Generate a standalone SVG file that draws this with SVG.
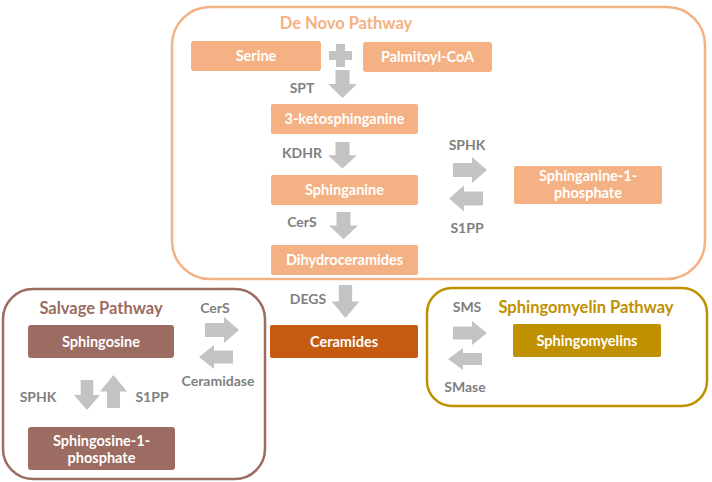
<svg xmlns="http://www.w3.org/2000/svg" width="712" height="482" viewBox="0 0 712 482">
<defs>
<style>
.bt{font-family:Lato,"Open Sans","Liberation Sans",sans-serif;font-weight:bold;font-size:14.5px;fill:#ffffff;text-anchor:middle}
.lb{font-family:Lato,"Open Sans","Liberation Sans",sans-serif;font-weight:bold;font-size:14px;fill:#7f7f7f;text-anchor:middle}
.tt{font-family:Lato,"Open Sans","Liberation Sans",sans-serif;font-weight:bold;font-size:16.5px;text-anchor:middle}
.ar{fill:#c3c3c3}
.dn{fill:#f4b183}
.sv{fill:#9c6b61}
</style>
<path id="down" d="M-7,0 H7 V14 H14.5 L0,28 L-14.5,14 H-7 Z"/>
<path id="right" d="M0,-7 H19 V-13 L34,0 L19,13 V7 H0 Z"/>
<path id="left" d="M34,-7 H15 V-13 L0,0 L15,13 V7 H34 Z"/>
</defs>
<rect width="712" height="482" fill="#ffffff"/>

<g id="denovo-pathway">
<rect x="172" y="7" width="533" height="272" rx="38" fill="none" stroke="#f4b183" stroke-width="2.5"/>
<text class="tt" x="346" y="29" fill="#f4b183">De Novo Pathway</text>
</g>
<g id="salvage-pathway">
<rect x="3" y="289" width="262" height="190" rx="30" fill="none" stroke="#9c6b61" stroke-width="2.5"/>
<text class="tt" x="101" y="314" fill="#9c6b61">Salvage Pathway</text>
</g>
<g id="sphingomyelin-pathway">
<rect x="427" y="288" width="280" height="118" rx="25" fill="none" stroke="#bf9000" stroke-width="2.5"/>
<text class="tt" x="586" y="313" fill="#bf9000">Sphingomyelin Pathway</text>
</g>

<g id="serine"><rect class="dn" x="191" y="41" width="130" height="30" rx="3"/><text class="bt" x="256" y="61">Serine</text></g>
<g id="palmitoyl-coa"><rect class="dn" x="363" y="42" width="129" height="30" rx="3"/><text class="bt" x="427.5" y="62">Palmitoyl-CoA</text></g>
<g id="ketosphinganine"><rect class="dn" x="271" y="104" width="147" height="30" rx="2"/><text class="bt" x="344.5" y="124">3-ketosphinganine</text></g>
<g id="sphinganine"><rect class="dn" x="271" y="175" width="147" height="30" rx="2"/><text class="bt" x="344.5" y="195">Sphinganine</text></g>
<g id="dihydroceramides"><rect class="dn" x="271" y="245" width="147" height="30" rx="2"/><text class="bt" x="344.5" y="265">Dihydroceramides</text></g>
<g id="sphinganine-1-phosphate"><rect class="dn" x="514" y="166" width="148" height="38" rx="2"/><text class="bt" x="588" y="181">Sphinganine-1-</text><text class="bt" x="588" y="198">phosphate</text></g>
<g id="ceramides"><rect x="270" y="325" width="148" height="33" rx="2" fill="#c55a11"/><text class="bt" x="344" y="347">Ceramides</text></g>
<g id="sphingosine"><rect class="sv" x="28" y="325" width="146" height="33" rx="3"/><text class="bt" x="101" y="347">Sphingosine</text></g>
<g id="sphingosine-1-phosphate"><rect class="sv" x="28" y="427" width="147" height="43" rx="3"/><text class="bt" x="101.5" y="446">Sphingosine-1-</text><text class="bt" x="101.5" y="463">phosphate</text></g>
<g id="sphingomyelins"><rect x="513" y="324" width="148" height="33" rx="2" fill="#bf9000"/><text class="bt" x="587" y="346">Sphingomyelins</text></g>

<g id="connectors">
<path class="ar" d="M336,44 H345 V51 H352 V60 H345 V67 H336 V60 H329 V51 H336 Z"/>
<use href="#down" class="ar" transform="translate(342.5,70)"/>
<use href="#down" class="ar" transform="translate(342.5,142) scale(1,0.95)"/>
<use href="#down" class="ar" transform="translate(343.5,212) scale(1,0.97)"/>
<use href="#down" class="ar" transform="translate(345.5,285) scale(0.95,1.18)"/>
<use href="#right" class="ar" transform="translate(453,170)"/>
<use href="#left" class="ar" transform="translate(449,198.5)"/>
<use href="#right" class="ar" transform="translate(205,330)"/>
<use href="#left" class="ar" transform="translate(199,357) scale(1,0.93)"/>
<use href="#right" class="ar" transform="translate(453,333) scale(1,0.93)"/>
<use href="#left" class="ar" transform="translate(448,359) scale(1,0.85)"/>
<use href="#down" class="ar" transform="translate(87,380) scale(0.9,1.07)"/>
<use href="#down" class="ar" transform="translate(113.5,408) scale(0.93,-1.18)"/>
<text class="lb" x="302" y="93">SPT</text>
<text class="lb" x="302" y="158">KDHR</text>
<text class="lb" x="302" y="227">CerS</text>
<text class="lb" x="308" y="304">DEGS</text>
<text class="lb" x="467" y="150">SPHK</text>
<text class="lb" x="467" y="233">S1PP</text>
<text class="lb" x="215" y="313">CerS</text>
<text class="lb" x="218" y="386">Ceramidase</text>
<text class="lb" x="38" y="402">SPHK</text>
<text class="lb" x="152" y="402">S1PP</text>
<text class="lb" x="467" y="312">SMS</text>
<text class="lb" x="465" y="392">SMase</text>
</g>
</svg>
